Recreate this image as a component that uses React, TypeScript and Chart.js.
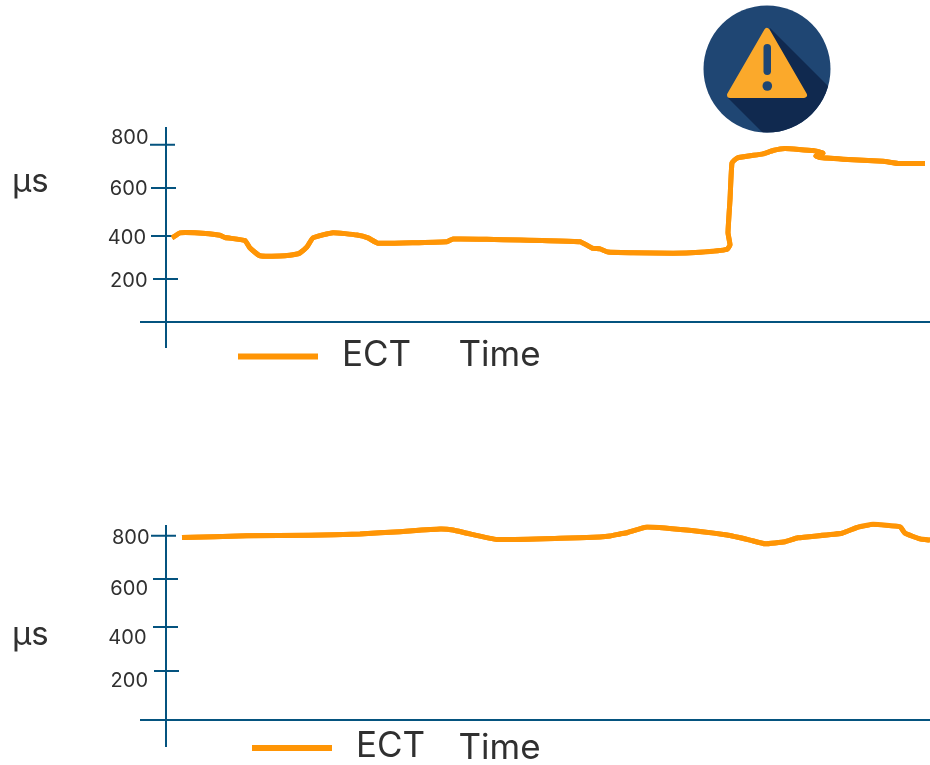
import React, { useEffect, useRef } from "react";
import { Chart, registerables } from "chart.js";

Chart.register(...registerables);

// Top chart: time index and ECT values (µs)
const topTime = [6, 14, 29, 54, 59, 79, 84, 94, 119, 131, 134, 141, 147, 167, 191, 202, 212, 281, 287, 321, 414, 426, 434, 442, 467, 507, 534, 561, 564, 562, 564, 566, 571, 597, 607, 619, 647, 657, 650, 654, 677, 717, 732, 759];
const topEct = [382, 405, 405, 394, 384, 370, 336, 301, 301, 309, 314, 341, 382, 406, 395, 382, 358, 365, 377, 376, 365, 336, 332, 318, 315, 312, 317, 330, 350, 405, 555, 723, 745, 764, 779, 788, 779, 767, 755, 747, 740, 730, 720, 720];

// Bottom chart
const bottomTime = [16, 81, 144, 194, 234, 274, 287, 301, 331, 394, 434, 444, 454, 461, 481, 534, 561, 584, 599, 619, 632, 676, 692, 707, 734, 739, 754, 764];
const bottomEct = [797, 805, 807, 813, 823, 834, 830, 816, 789, 794, 800, 804, 813, 818, 843, 824, 808, 786, 770, 779, 796, 816, 843, 855, 845, 816, 791, 786];

// Axis labels and legend text
const yTickLabels = ["800", "600", "400", "200"];
const seriesName = "ECT";
const xTitle = "Time";
const yTitle = "µs";

// Where the source's hand-placed tick marks sit on each value axis
const topTickValues = [805, 609, 391, 195];
const bottomTickValues = [805, 616, 406, 214];

const AXIS = "#04537f";
const LINE = "#ff9505";
const TEXT = "#303030";
const FONT = "Inter";

type Layout = {
  top: number;
  tickLeft: number[];
  labelRight: number[];
  labelY: number[];
  legendLine: number[];
  ectX: number;
  ectY: number;
  timeX: number;
  timeY: number;
  unitY: number;
  axisTop: number;
  axisBottom: number;
  icon: boolean;
};

const topLayout: Layout = {
  top: 0,
  tickLeft: [150, 151, 151, 153],
  labelRight: [148.5, 147.5, 146, 147.5],
  labelY: [137.5, 188.5, 238, 281],
  legendLine: [238, 318, 356.5],
  ectX: 342,
  ectY: 355.5,
  timeX: 458.5,
  timeY: 355.5,
  unitY: 182,
  axisTop: 127,
  axisBottom: 348,
  icon: true,
};

const bottomLayout: Layout = {
  top: 383,
  tickLeft: [151, 153, 153, 154],
  labelRight: [149.5, 148, 146.5, 148],
  labelY: [537.5, 588.5, 637.5, 681],
  legendLine: [252, 332, 748],
  ectX: 356,
  ectY: 746.5,
  timeX: 458.5,
  timeY: 748.5,
  unitY: 635,
  axisTop: 525,
  axisBottom: 747,
  icon: false,
};

function drawIcon(ctx: CanvasRenderingContext2D) {
  const cx = 767;
  const cy = 69;
  const r = 63.5;
  ctx.save();
  ctx.beginPath();
  ctx.arc(cx, cy, r, 0, Math.PI * 2);
  ctx.fillStyle = "#1f4673";
  ctx.fill();
  ctx.clip();
  ctx.beginPath();
  ctx.moveTo(770, 28);
  ctx.lineTo(862, 120);
  ctx.lineTo(800, 170);
  ctx.lineTo(728, 98);
  ctx.closePath();
  ctx.fillStyle = "#10294f";
  ctx.fill();
  ctx.restore();

  ctx.save();
  ctx.beginPath();
  ctx.moveTo(767, 31);
  ctx.lineTo(804, 95);
  ctx.lineTo(730, 95);
  ctx.closePath();
  ctx.fillStyle = "#fba92b";
  ctx.strokeStyle = "#fba92b";
  ctx.lineWidth = 6;
  ctx.lineJoin = "round";
  ctx.stroke();
  ctx.fill();
  ctx.fillStyle = "#1f4673";
  ctx.beginPath();
  ctx.roundRect(763.5, 44, 7.5, 31, 3.7);
  ctx.fill();
  ctx.beginPath();
  ctx.arc(767.3, 86, 4.8, 0, Math.PI * 2);
  ctx.fill();
  ctx.restore();
}

function makePlugin(layout: Layout, tickValues: number[]) {
  return {
    id: "handAxes",
    afterDraw(chart: any) {
      const ctx: CanvasRenderingContext2D = chart.ctx;
      const yScale = chart.scales.y;
      const xScale = chart.scales.x;
      const off = layout.top;
      const axisX = xScale.getPixelForValue(0);
      const axisY = yScale.getPixelForValue(0) + off;

      ctx.save();
      ctx.translate(0, -off);
      ctx.strokeStyle = AXIS;
      ctx.lineWidth = 2;
      ctx.beginPath();
      ctx.moveTo(axisX, layout.axisTop);
      ctx.lineTo(axisX, layout.axisBottom);
      ctx.moveTo(140, axisY);
      ctx.lineTo(930, axisY);
      tickValues.forEach((v, i) => {
        const y = yScale.getPixelForValue(v) + off;
        ctx.moveTo(layout.tickLeft[i], y);
        ctx.lineTo(layout.tickLeft[i] + 25, y);
      });
      ctx.stroke();

      // redraw the series over the ticks
      ctx.restore();
      chart.getDatasetMeta(0).controller.draw();
      ctx.save();
      ctx.translate(0, -off);

      ctx.fillStyle = TEXT;
      ctx.textBaseline = "middle";
      ctx.textAlign = "right";
      ctx.font = `20px ${FONT}`;
      yTickLabels.forEach((t, i) => {
        ctx.fillText(t, layout.labelRight[i], layout.labelY[i]);
      });

      ctx.textAlign = "left";
      ctx.font = `33px ${FONT}`;
      ctx.fillText(yTitle, 12, layout.unitY);

      ctx.font = `35px ${FONT}`;
      ctx.fillText(seriesName, layout.ectX, layout.ectY);
      ctx.fillText(xTitle, layout.timeX, layout.timeY);

      ctx.strokeStyle = LINE;
      ctx.lineWidth = 6;
      ctx.beginPath();
      ctx.moveTo(layout.legendLine[0], layout.legendLine[2]);
      ctx.lineTo(layout.legendLine[1], layout.legendLine[2]);
      ctx.stroke();

      if (layout.icon) drawIcon(ctx);
      ctx.restore();
    },
  };
}

function EctChart(props: {
  time: number[];
  ect: number[];
  yMax: number;
  height: number;
  padding: { top: number; bottom: number };
  layout: Layout;
  tickValues: number[];
}) {
  const ref = useRef<HTMLCanvasElement>(null);
  useEffect(() => {
    const chart = new Chart(ref.current!, {
      type: "scatter",
      data: {
        datasets: [
          {
            label: seriesName,
            data: props.time.map((t, i) => ({ x: t, y: props.ect[i] })),
            showLine: true,
            borderColor: LINE,
            backgroundColor: LINE,
            borderWidth: 5,
            pointRadius: 0,
            tension: 0.12,
            borderCapStyle: "butt",
            borderJoinStyle: "round",
          },
        ],
      },
      options: {
        responsive: false,
        animation: false,
        layout: {
          padding: { left: 166, right: 0, top: props.padding.top, bottom: props.padding.bottom },
        },
        plugins: { legend: { display: false }, tooltip: { enabled: false } },
        scales: {
          x: { type: "linear", min: 0, max: 764, display: false },
          y: { type: "linear", min: 0, max: props.yMax, display: false },
        },
      },
      plugins: [makePlugin(props.layout, props.tickValues)],
    } as any);
    return () => chart.destroy();
  }, []);
  return (
    <canvas
      ref={ref}
      width={930}
      height={props.height}
      style={{ position: "absolute", left: 0, top: props.layout.top, width: 930, height: props.height, display: "block" }}
    />
  );
}

export default function App() {
  return (
    <div style={{ position: "absolute", left: 0, top: 0, width: 930, height: 765, background: "#ffffff", overflow: "hidden" }}>
      <EctChart
        time={topTime}
        ect={topEct}
        yMax={886}
        height={383}
        padding={{ top: 127, bottom: 61 }}
        layout={topLayout}
        tickValues={topTickValues}
      />
      <EctChart
        time={bottomTime}
        ect={bottomEct}
        yMax={852}
        height={382}
        padding={{ top: 142, bottom: 45 }}
        layout={bottomLayout}
        tickValues={bottomTickValues}
      />
    </div>
  );
}
